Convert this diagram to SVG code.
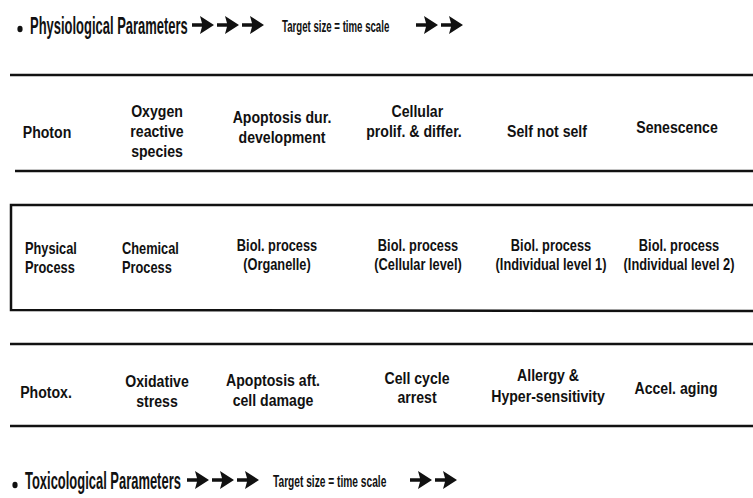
<svg xmlns="http://www.w3.org/2000/svg" xmlns:xlink="http://www.w3.org/1999/xlink" width="753" height="498" viewBox="0 0 753 498">
<style>
.bg{fill:#ffffff}
.ln{stroke:#111;stroke-width:2.5;fill:none}
.ttl{font-family:"Liberation Sans",Arial,sans-serif;font-weight:bold;font-size:23px;fill:#111}
.sub{font-family:"Liberation Sans",Arial,sans-serif;font-weight:bold;font-size:16px;fill:#111}
.a{font-family:"Liberation Sans",Arial,sans-serif;font-weight:bold;font-size:17px;fill:#111;text-anchor:middle}
.b{font-family:"Liberation Sans",Arial,sans-serif;font-weight:bold;font-size:16px;fill:#111;text-anchor:middle}
.bs{font-family:"Liberation Sans",Arial,sans-serif;font-weight:bold;font-size:16px;fill:#111}
.arr{fill:#111}
</style>
<defs>
<path id="arrow" d="M0,-1.7 L10,-1.7 L8,-9 L22,0 L8,9 L10,1.7 L0,1.7 Z"/>
</defs>
<rect class="bg" x="0" y="0" width="753" height="498"/>

<g id="title-top">
<ellipse cx="20" cy="29" rx="2.6" ry="3.2" fill="#111"/>
<g transform="translate(30,34) scale(0.564,1)"><text class="ttl">Physiological Parameters</text></g>
<use xlink:href="#arrow" class="arr" x="192" y="25"/>
<use xlink:href="#arrow" class="arr" x="217" y="25"/>
<use xlink:href="#arrow" class="arr" x="242" y="25"/>
<g transform="translate(282,32) scale(0.603,1)"><text class="sub">Target size = time scale</text></g>
<use xlink:href="#arrow" class="arr" x="416" y="25"/>
<use xlink:href="#arrow" class="arr" x="441" y="25"/>
</g>

<g id="connectors">
<line class="ln" x1="10" y1="75" x2="753" y2="75"/>
<line class="ln" x1="15" y1="171" x2="753" y2="171"/>
<path class="ln" d="M753,205 L11,205 L11,310 L753,311"/>
<line class="ln" x1="10" y1="344" x2="753" y2="344"/>
<line class="ln" x1="10" y1="426" x2="753" y2="426"/>
</g>

<g id="n-photon" transform="translate(47,138) scale(0.83,1)"><text class="a">Photon</text></g>
<g id="n-oxygen" transform="translate(157,117) scale(0.83,1)"><text class="a">Oxygen</text><text class="a" y="20">reactive</text><text class="a" y="40">species</text></g>
<g id="n-apoptosis-dev" transform="translate(282,123) scale(0.83,1)"><text class="a">Apoptosis dur.</text><text class="a" y="20">development</text></g>
<g id="n-cellular" transform="translate(414,117) scale(0.83,1)"><text class="a" x="4">Cellular</text><text class="a" y="20">prolif. &amp; differ.</text></g>
<g id="n-self" transform="translate(547,137) scale(0.83,1)"><text class="a">Self not self</text></g>
<g id="n-senescence" transform="translate(677,133) scale(0.83,1)"><text class="a">Senescence</text></g>

<g id="n-physical" transform="translate(25,254) scale(0.8,1)"><text class="bs">Physical</text><text class="bs" y="19">Process</text></g>
<g id="n-chemical" transform="translate(122,254) scale(0.8,1)"><text class="bs">Chemical</text><text class="bs" y="19">Process</text></g>
<g id="n-organelle" transform="translate(277,251) scale(0.8,1)"><text class="b">Biol. process</text><text class="b" y="19">(Organelle)</text></g>
<g id="n-cellular-level" transform="translate(418,251) scale(0.8,1)"><text class="b">Biol. process</text><text class="b" y="19">(Cellular level)</text></g>
<g id="n-individual-1" transform="translate(551,251) scale(0.8,1)"><text class="b">Biol. process</text><text class="b" y="19">(Individual level 1)</text></g>
<g id="n-individual-2" transform="translate(679,251) scale(0.8,1)"><text class="b">Biol. process</text><text class="b" y="19">(Individual level 2)</text></g>

<g id="n-photox" transform="translate(46,398) scale(0.83,1)"><text class="a">Photox.</text></g>
<g id="n-oxidative" transform="translate(157,387) scale(0.83,1)"><text class="a">Oxidative</text><text class="a" y="20">stress</text></g>
<g id="n-apoptosis-aft" transform="translate(273,386) scale(0.83,1)"><text class="a">Apoptosis aft.</text><text class="a" y="20">cell damage</text></g>
<g id="n-cellcycle" transform="translate(417,384) scale(0.83,1)"><text class="a">Cell cycle</text><text class="a" y="19">arrest</text></g>
<g id="n-allergy" transform="translate(548,381) scale(0.83,1)"><text class="a">Allergy &amp;</text><text class="a" y="21">Hyper-sensitivity</text></g>
<g id="n-aging" transform="translate(676,394) scale(0.83,1)"><text class="a">Accel. aging</text></g>

<g id="title-bottom">
<ellipse cx="15" cy="485" rx="2.6" ry="3.2" fill="#111"/>
<g transform="translate(25,489) scale(0.563,1)"><text class="ttl">Toxicological Parameters</text></g>
<use xlink:href="#arrow" class="arr" x="187" y="480"/>
<use xlink:href="#arrow" class="arr" x="212" y="480"/>
<use xlink:href="#arrow" class="arr" x="237" y="480"/>
<g transform="translate(273,487) scale(0.637,1)"><text class="sub">Target size = time scale</text></g>
<use xlink:href="#arrow" class="arr" x="410" y="480"/>
<use xlink:href="#arrow" class="arr" x="435" y="480"/>
</g>
</svg>
